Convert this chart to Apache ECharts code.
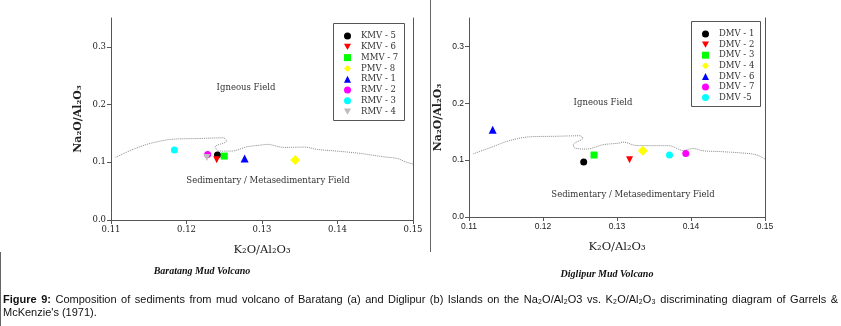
<!DOCTYPE html>
<html>
<head>
<meta charset="utf-8">
<title>Garrels & McKenzie diagram</title>
<script src="https://cdn.jsdelivr.net/npm/echarts@6/dist/echarts.min.js"></script>
<style>
html, body { margin: 0; padding: 0; background: #fff; }
#chart { width: 841px; height: 326px; }
</style>
</head>
<body>
<div id="chart"></div>
<script>
// Baratang mud volcano samples
const baratangNames = ['KMV - 5', 'KMV - 6', 'MMV - 7', 'PMV - 8', 'RMV - 1', 'RMV - 2', 'RMV - 3', 'RMV - 4']
const baratangK2O = [0.1241, 0.1240, 0.1250, 0.1344, 0.1277, 0.1228, 0.1184, 0.1227]
const baratangNa2O = [0.1125, 0.1045, 0.1107, 0.1038, 0.1067, 0.1137, 0.1211, 0.1085]

// Diglipur mud volcano samples
const diglipurNames = ['DMV - 1', 'DMV - 2', 'DMV - 3', 'DMV - 4', 'DMV - 6', 'DMV - 7', 'DMV -5']
const diglipurK2O = [0.1255, 0.1317, 0.1269, 0.1335, 0.1132, 0.1393, 0.1371]
const diglipurNa2O = [0.0967, 0.1007, 0.1090, 0.1165, 0.1534, 0.1118, 0.1090]

// igneous / sedimentary boundary as drawn in panel (a)
const boundaryAK2O = [0.1106, 0.1130, 0.1152, 0.1179, 0.1218, 0.1249, 0.1253, 0.1238, 0.1243, 0.1260,
  0.1280, 0.1298, 0.1307, 0.1329, 0.1357, 0.1373, 0.1399, 0.1430, 0.1461, 0.1479, 0.1490, 0.1500]
const boundaryANa2O = [0.1085, 0.1228, 0.1327, 0.1396, 0.1413, 0.1424, 0.1367, 0.1268, 0.1194, 0.1194,
  0.1268, 0.1298, 0.1310, 0.1258, 0.1263, 0.1223, 0.1194, 0.1154, 0.1095, 0.1067, 0.1009, 0.0969]

// same boundary as drawn in panel (b)
const boundaryBK2O = [0.1106, 0.1132, 0.1151, 0.1178, 0.1218, 0.1250, 0.1254, 0.1241, 0.1243, 0.1259,
  0.1281, 0.1304, 0.1308, 0.1326, 0.1371, 0.1389, 0.1403, 0.1416, 0.1443, 0.1470, 0.1488, 0.1500]
const boundaryBNa2O = [0.1112, 0.1235, 0.1329, 0.1406, 0.1420, 0.1429, 0.1388, 0.1271, 0.1213, 0.1195,
  0.1271, 0.1301, 0.1318, 0.1258, 0.1253, 0.1170, 0.1206, 0.1165, 0.1148, 0.1125, 0.1095, 0.1019]

const xTicks = [0.11, 0.12, 0.13, 0.14, 0.15]
const yTicks = [0.0, 0.1, 0.2, 0.3]

const downTri = 'path://M0,0L10,0L5,9Z'
const markersA = [
  ['circle', '#000000', 7], [downTri, '#ff0000', 7], ['rect', '#00ff00', 7], ['diamond', '#ffff00', 10],
  ['triangle', '#0000ff', 8], ['circle', '#ff00ff', 7], ['circle', '#00ffff', 7], [downTri, '#bdbdbd', 7]
]
const markersB = [
  ['circle', '#000000', 7], [downTri, '#ff0000', 7], ['rect', '#00ff00', 7], ['diamond', '#ffff00', 10],
  ['triangle', '#0000ff', 8], ['circle', '#ff00ff', 7], ['circle', '#00ffff', 7]
]

const serif = 'DejaVu Serif'
const sans = '"Liberation Sans", Arial, sans-serif'
const captionFont = '"Liberation Sans Narrow", "Arial Narrow", "Liberation Sans", sans-serif'
const axisColor = '#555'

const makeXAxis = (gridIndex, labelFont) => ({
  type: 'value',
  gridIndex: gridIndex,
  min: 0.11,
  max: 0.15,
  name: 'K₂O/Al₂O₃',
  nameLocation: 'middle',
  nameGap: 24,
  nameTextStyle: { fontFamily: serif, fontSize: 11.5, color: '#222' },
  axisLine: { onZero: false, lineStyle: { color: axisColor } },
  axisTick: { length: 4, customValues: xTicks, lineStyle: { color: axisColor } },
  axisLabel: {
    customValues: xTicks,
    margin: 5,
    fontFamily: labelFont,
    fontSize: 8.5,
    color: '#222',
    formatter: v => v.toFixed(2),
  },
  splitLine: { show: false },
})

const makeYAxis = (gridIndex, labelFont, gap) => ({
  type: 'value',
  gridIndex: gridIndex,
  min: 0,
  max: 0.35,
  name: 'Na₂O/Al₂O₃',
  nameLocation: 'middle',
  nameGap: gap,
  nameTextStyle: { fontFamily: serif, fontSize: 11, fontWeight: 'bold', color: '#222' },
  axisLine: { lineStyle: { color: axisColor } },
  axisTick: { length: 4, customValues: yTicks, lineStyle: { color: axisColor } },
  axisLabel: {
    customValues: yTicks,
    margin: 5,
    fontFamily: labelFont,
    fontSize: 8.5,
    color: '#222',
    formatter: v => v.toFixed(1),
  },
  splitLine: { show: false },
})

const edgeAxis = gridIndex => ({
  type: 'value',
  gridIndex: gridIndex,
  position: 'right',
  min: 0,
  max: 0.35,
  axisLine: { show: true, lineStyle: { color: axisColor } },
  axisTick: { show: false },
  axisLabel: { show: false },
  splitLine: { show: false },
})

const scatterSeries = (names, xs, ys, markers, axisIndex) => names.map((name, i) => ({
  name: name,
  type: 'scatter',
  xAxisIndex: axisIndex,
  yAxisIndex: axisIndex,
  data: [[xs[i], ys[i]]],
  symbol: markers[i][0],
  symbolSize: markers[i][2],
  itemStyle: { color: markers[i][1], opacity: 1 },
  z: 3,
}))

const boundarySeries = (xs, ys, axisIndex) => ({
  name: 'boundary',
  type: 'line',
  xAxisIndex: axisIndex,
  yAxisIndex: axisIndex,
  data: xs.map((x, i) => [x, ys[i]]),
  showSymbol: false,
  symbol: 'none',
  smooth: 0.3,
  lineStyle: { color: '#8a8a8a', width: 1, type: 'dotted' },
  silent: true,
  z: 2,
})

const legendStyle = (names, left, top, gap) => ({
  data: names,
  orient: 'vertical',
  left: left,
  top: top,
  padding: 0,
  itemWidth: 7,
  itemHeight: 7,
  itemGap: gap,
  textStyle: { fontFamily: serif, fontSize: 8.5, color: '#333', lineHeight: 10, padding: [0, 0, 0, 5] },
})

// caption, spread across the full width like the justified original
const justifyLine = (tokens, x0, x1, y, size) => {
  const ctx = document.createElement('canvas').getContext('2d')
  const widths = tokens.map(t => {
    ctx.font = (t.bold ? 'bold ' : '') + size + 'px ' + captionFont
    return ctx.measureText(t.text).width
  })
  const total = widths.reduce((a, b) => a + b, 0)
  const gap = (x1 - x0 - total) / (tokens.length - 1)
  let x = x0
  return tokens.map((t, i) => {
    const el = {
      type: 'text',
      left: x,
      top: y,
      style: { text: t.text, fontFamily: captionFont, fontSize: size, fontWeight: t.bold ? 'bold' : 'normal', fill: '#111' },
    }
    x += widths[i] + gap
    return el
  })
}

const captionLine1 = 'Composition of sediments from mud volcano of Baratang (a) and Diglipur (b) Islands on the Na₂O/Al₂O3 vs. K₂O/Al₂O₃ discriminating diagram of Garrels &'
const captionTokens = [{ text: 'Figure', bold: true }, { text: '9:', bold: true }]
  .concat(captionLine1.split(' ').map(w => ({ text: w, bold: false })))

// centred text placed by its middle point
const label = (text, x, y, extra) => ({
  type: 'text',
  x: x,
  y: y,
  style: Object.assign({ text: text, fontFamily: serif, fontSize: 8.5, fill: '#333', textAlign: 'center', textVerticalAlign: 'middle' }, extra || {}),
})

const subtitleStyle = { fontFamily: 'Liberation Serif', fontStyle: 'italic', fontWeight: 'bold', fontSize: 10, fill: '#111' }

const chart = echarts.init(document.getElementById('chart'))

chart.setOption({
  animation: false,
  backgroundColor: '#fff',
  grid: [
    { left: 111, top: 18, width: 302, height: 202 },
    { left: 469, top: 18, width: 296, height: 199 },
  ],
  xAxis: [makeXAxis(0, serif), makeXAxis(1, sans)],
  yAxis: [
    makeYAxis(0, serif, 27),
    makeYAxis(1, sans, 25.5),
    edgeAxis(0),
    edgeAxis(1),
  ],
  legend: [
    legendStyle(baratangNames, 344, 31, 0.8),
    legendStyle(diglipurNames, 702, 29, 0.6),
  ],
  series: [
    boundarySeries(boundaryAK2O, boundaryANa2O, 0),
    boundarySeries(boundaryBK2O, boundaryBNa2O, 1),
  ].concat(
    scatterSeries(baratangNames, baratangK2O, baratangNa2O, markersA, 0),
    scatterSeries(diglipurNames, diglipurK2O, diglipurNa2O, markersB, 1)
  ),
  graphic: [
    { type: 'rect', shape: { x: 333.5, y: 23.5, width: 71, height: 97 }, style: { fill: 'none', stroke: '#555', lineWidth: 1 } },
    { type: 'rect', shape: { x: 691.5, y: 21.5, width: 69, height: 85 }, style: { fill: 'none', stroke: '#555', lineWidth: 1 } },
    { type: 'line', shape: { x1: 430.5, y1: 0, x2: 430.5, y2: 252 }, style: { stroke: '#666', lineWidth: 1 } },
    { type: 'line', shape: { x1: 0.5, y1: 252, x2: 0.5, y2: 326 }, style: { stroke: '#666', lineWidth: 1 } },
    label('Igneous Field', 246, 88),
    label('Sedimentary / Metasedimentary Field', 268, 181),
    label('Igneous Field', 603, 103),
    label('Sedimentary / Metasedimentary Field', 633, 195),
    label('Baratang Mud Volcano', 202, 271, subtitleStyle),
    label('Diglipur Mud Volcano', 607, 274, subtitleStyle),
  ].concat(
    justifyLine(captionTokens, 3, 838, 294, 11),
    [{ type: 'text', left: 3, top: 307, style: { text: 'McKenzie\'s (1971).', fontFamily: captionFont, fontSize: 11, fill: '#111' } }]
  ),
})
</script>
</body>
</html>
